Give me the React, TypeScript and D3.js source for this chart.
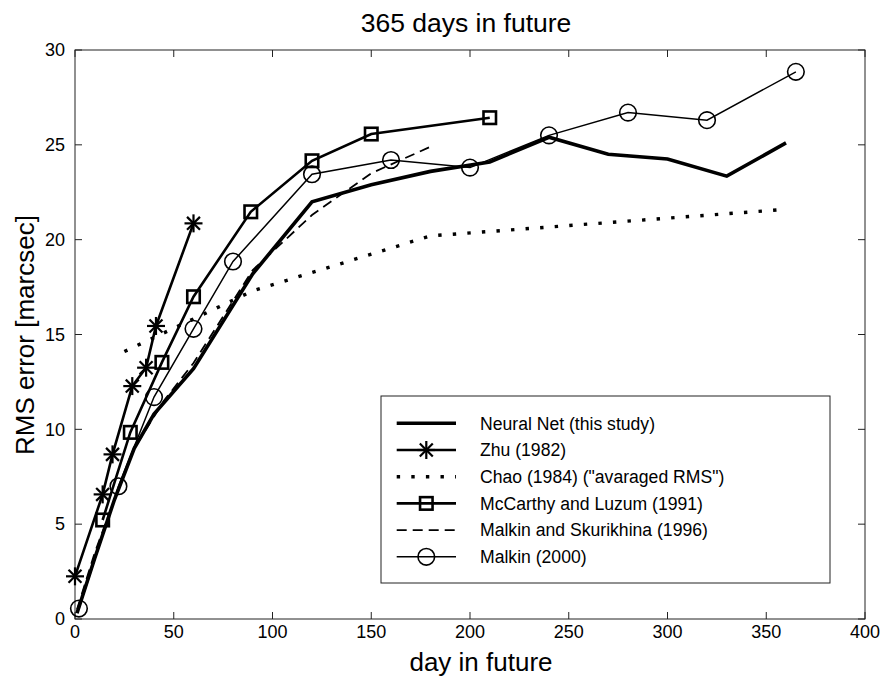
import React from "react";
import * as d3 from "d3";

const W = 885;
const H = 679;

const xTicks = [0, 50, 100, 150, 200, 250, 300, 350, 400];
const yTicks = [0, 5, 10, 15, 20, 25, 30];

const nnX = [1, 10, 20, 30, 40, 60, 90, 120, 150, 180, 210, 240, 270, 300, 330, 360];
const nnY = [0.3, 3.2, 6.3, 9.0, 10.8, 13.2, 18.2, 22.0, 22.9, 23.6, 24.1, 25.4, 24.5, 24.25, 23.35, 25.1];

const zhuX = [0, 14, 19, 29, 36, 41, 60];
const zhuY = [2.25, 6.57, 8.68, 12.28, 13.25, 15.45, 20.86];

const chaoX = [25, 90, 180, 360];
const chaoY = [14.1, 17.3, 20.2, 21.6];

const mccX = [14, 28, 44, 60, 89, 120, 150, 210];
const mccY = [5.22, 9.84, 13.53, 16.99, 21.47, 24.16, 25.57, 26.43];

const msX = [1, 10, 20, 30, 45, 60, 90, 120, 150, 180];
const msY = [0.5, 3.5, 6.3, 9.0, 11.5, 13.5, 18.4, 21.3, 23.5, 24.9];

const malX = [2, 22, 40, 60, 80, 120, 160, 200, 240, 280, 320, 365];
const malY = [0.55, 7.0, 11.7, 15.3, 18.85, 23.45, 24.2, 23.8, 25.5, 26.7, 26.3, 28.85];

const legendLabels = [
  "Neural Net (this study)",
  "Zhu (1982)",
  "Chao (1984) (\"avaraged RMS\")",
  "McCarthy and Luzum (1991)",
  "Malkin and Skurikhina (1996)",
  "Malkin (2000)",
];

const FONT = "'Liberation Sans', Arial, Helvetica, sans-serif";

type Marker = "none" | "star" | "square" | "circle";
interface Series {
  xs: number[];
  ys: number[];
  width: number;
  dash?: string;
  marker: Marker;
  markerWidth?: number;
}

const series: Series[] = [
  { xs: nnX, ys: nnY, width: 3.6, marker: "none" },
  { xs: zhuX, ys: zhuY, width: 2.6, marker: "star", markerWidth: 2.2 },
  { xs: chaoX, ys: chaoY, width: 3.4, dash: "3.4 11.2", marker: "none" },
  { xs: mccX, ys: mccY, width: 2.6, marker: "square", markerWidth: 2.6 },
  { xs: msX, ys: msY, width: 1.8, dash: "10 6", marker: "none" },
  { xs: malX, ys: malY, width: 1.5, marker: "circle", markerWidth: 1.6 },
];

function MarkerShape({ m, cx, cy, sw }: { m: Marker; cx: number; cy: number; sw: number }) {
  if (m === "star") {
    const r = 9;
    const d = r * 0.72;
    return (
      <g stroke="#000" strokeWidth={sw}>
        <line x1={cx - r} y1={cy} x2={cx + r} y2={cy} />
        <line x1={cx} y1={cy - r} x2={cx} y2={cy + r} />
        <line x1={cx - d} y1={cy - d} x2={cx + d} y2={cy + d} />
        <line x1={cx - d} y1={cy + d} x2={cx + d} y2={cy - d} />
      </g>
    );
  }
  if (m === "square") {
    const s = 12.5;
    return <rect x={cx - s / 2} y={cy - s / 2} width={s} height={s} fill="none" stroke="#000" strokeWidth={sw} />;
  }
  if (m === "circle") {
    return <circle cx={cx} cy={cy} r={8.3} fill="none" stroke="#000" strokeWidth={sw} />;
  }
  return null;
}

export default function App() {
  const x = d3.scaleLinear().domain([0, 400]).range([75, 865]);
  const y = d3.scaleLinear().domain([0, 30]).range([619, 50]);
  const line = d3
    .line<[number, number]>()
    .x((d) => x(d[0]))
    .y((d) => y(d[1]));

  const x0 = x(0), x1 = x(400), y0 = y(0), y1 = y(30);
  const tick = 7;

  const legX = 381, legY = 396, legW = 449, legH = 187;
  const rowY = (i: number) => 423.3 + i * 26.7;

  return (
    <svg width={W} height={H} style={{ position: "absolute", left: 0, top: 0, background: "#fff" }} fontFamily={FONT}>
      <rect x={0} y={0} width={W} height={H} fill="#fff" />
      <rect x={x0} y={y1} width={x1 - x0} height={y0 - y1} fill="none" stroke="#222" strokeWidth={1} />
      {xTicks.map((t) => (
        <g key={"xt" + t}>
          <line x1={x(t)} x2={x(t)} y1={y0} y2={y0 - tick} stroke="#222" />
          <line x1={x(t)} x2={x(t)} y1={y1} y2={y1 + tick} stroke="#222" />
          <text x={x(t)} y={638} fontSize={18} textAnchor="middle" fill="#000">{t}</text>
        </g>
      ))}
      {yTicks.map((t) => (
        <g key={"yt" + t}>
          <line x1={x0} x2={x0 + tick} y1={y(t)} y2={y(t)} stroke="#222" />
          <line x1={x1} x2={x1 - tick} y1={y(t)} y2={y(t)} stroke="#222" />
          <text x={65} y={y(t) + 6.3} fontSize={18} textAnchor="end" fill="#000">{t}</text>
        </g>
      ))}
      <text x={466} y={32} fontSize={26.5} textAnchor="middle">365 days in future</text>
      <text x={481} y={671} fontSize={26} textAnchor="middle">day in future</text>
      <text transform="translate(34,335) rotate(-90)" fontSize={26} textAnchor="middle">RMS error [marcsec]</text>

      {series.map((s, i) => {
        const pts = s.xs.map((v, j) => [v, s.ys[j]] as [number, number]);
        return (
          <g key={"s" + i}>
            <path d={line(pts) || ""} fill="none" stroke="#000" strokeWidth={s.width} strokeDasharray={s.dash} strokeLinejoin="miter" />
            {pts.map((p, j) => (
              <MarkerShape key={"m" + i + "_" + j} m={s.marker} cx={x(p[0])} cy={y(p[1])} sw={s.markerWidth || 1.5} />
            ))}
          </g>
        );
      })}

      <rect x={legX} y={legY} width={legW} height={legH} fill="#fff" stroke="#222" strokeWidth={1} />
      {series.map((s, i) => {
        const cy = rowY(i);
        return (
          <g key={"lg" + i}>
            <line x1={396.7} x2={456} y1={cy} y2={cy} stroke="#000" strokeWidth={s.width} strokeDasharray={s.dash} />
            <MarkerShape m={s.marker} cx={426.3} cy={cy} sw={s.markerWidth || 1.5} />
            <text x={480} y={cy + 6.3} fontSize={17.6}>{legendLabels[i]}</text>
          </g>
        );
      })}
    </svg>
  );
}
